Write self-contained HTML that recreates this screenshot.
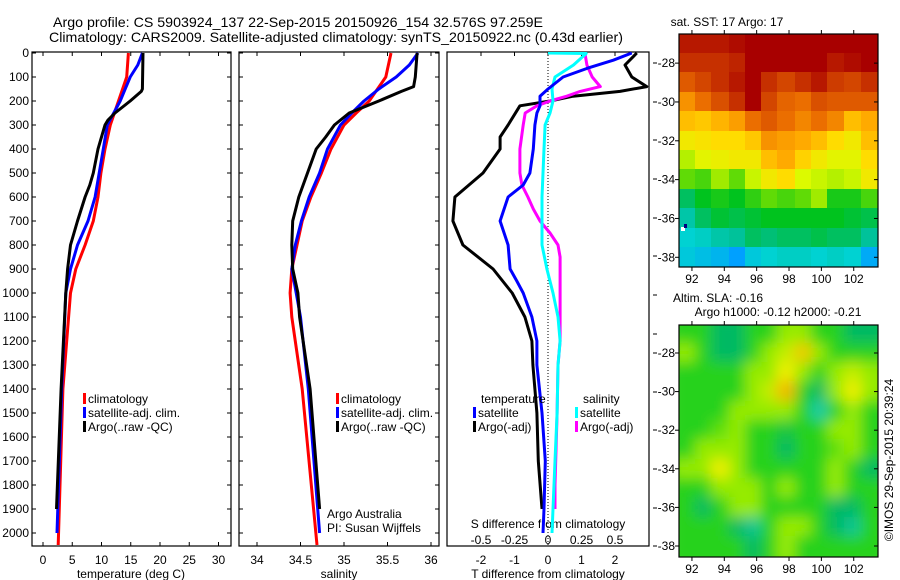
<!DOCTYPE html>
<html><head><meta charset="utf-8">
<style>
html,body{margin:0;padding:0;background:#fff;}
svg{display:block;font-family:"Liberation Sans",sans-serif;}
text{fill:#000;}
</style></head>
<body>
<svg id="chart" width="900" height="580" viewBox="0 0 900 580" xmlns="http://www.w3.org/2000/svg">
<defs>
<clipPath id="c1"><rect x="32" y="52" width="199" height="494"/></clipPath>
<clipPath id="c2"><rect x="239" y="52" width="200" height="494"/></clipPath>
<clipPath id="c3"><rect x="447" y="52" width="202" height="494"/></clipPath>
<clipPath id="cm1"><rect x="679" y="34" width="199" height="233"/></clipPath>
<clipPath id="cm2"><rect x="679" y="325" width="199" height="232"/></clipPath>
<filter id="blur2" x="-5%" y="-5%" width="110%" height="110%"><feGaussianBlur stdDeviation="7"/></filter>
</defs>
<text x="53" y="27" font-size="14" textLength="490" lengthAdjust="spacingAndGlyphs">Argo profile: CS 5903924_137 22-Sep-2015 20150926_154 32.576S 97.259E</text>
<text x="49" y="42" font-size="14" textLength="574" lengthAdjust="spacingAndGlyphs">Climatology: CARS2009. Satellite-adjusted climatology: synTS_20150922.nc (0.43d earlier)</text>
<g id="g"></g>
</svg>
<script>
// ---------- data ----------
const tClimDepth = [0,100,200,300,400,500,600,700,800,900,1000,1400,2050];
const tClimVal   = [14.6,14.3,12.9,11.5,10.6,9.9,9.4,8.6,7.2,5.6,4.7,3.4,2.6];
const tSatDepth  = [0,50,100,200,300,400,500,600,700,800,900,1000,1400,2000];
const tSatVal    = [17.0,16.2,14.9,13.2,11.0,10.3,9.6,8.9,7.7,5.9,4.7,3.9,3.2,2.4];
const tArgoDepth = [0,150,160,200,250,280,300,400,500,550,600,700,800,900,1000,1400,1900];
const tArgoVal   = [17.1,17.0,16.8,14.9,12.3,11.1,10.6,9.4,8.6,8.0,7.2,5.9,4.7,4.2,3.9,3.1,2.3];

const sClimDepth = [0,100,200,250,300,400,500,600,700,800,900,1000,1100,1400,2050];
const sClimVal   = [35.54,35.48,35.29,35.14,35.0,34.85,34.74,34.62,34.52,34.46,34.40,34.38,34.40,34.52,34.69];
const sSatDepth  = [0,50,100,150,200,250,300,400,500,600,700,800,900,1000,1100,1400,2000];
const sSatVal    = [35.85,35.75,35.6,35.40,35.23,35.09,34.96,34.81,34.72,34.60,34.51,34.44,34.40,34.45,34.5,34.59,34.72];
const sArgoDepth = [0,100,140,160,200,250,300,350,400,500,600,700,800,900,1000,1100,1400,1900];
const sArgoVal   = [35.84,35.82,35.80,35.66,35.40,35.06,34.89,34.79,34.68,34.58,34.48,34.41,34.40,34.41,34.47,34.49,34.61,34.72];

const dTArgoDepth = [0,50,100,140,160,180,200,220,300,350,400,500,600,700,800,900,1000,1100,1200,1300,1500,1700,1900];
const dTArgoVal   = [2.65,2.3,2.5,2.95,2.15,0.75,0.06,-0.84,-1.19,-1.43,-1.43,-1.94,-2.78,-2.84,-2.54,-1.64,-1.07,-0.69,-0.48,-0.45,-0.33,-0.29,-0.18];
const dTSatDepth  = [0,30,60,100,150,180,220,250,300,400,500,550,600,700,800,900,950,1000,1100,1200,1300,1500,1700,1900,2000];
const dTSatVal    = [2.5,1.95,1.25,0.45,0.0,-0.24,-0.24,-0.33,-0.39,-0.44,-0.54,-0.74,-1.19,-1.43,-1.19,-1.13,-0.93,-0.74,-0.48,-0.33,-0.33,-0.18,-0.08,-0.12,-0.15];
const dSSatDepth  = [0,2,50,100,150,200,250,300,400,600,800,900,1000,1100,1200,1300,1500,1700,1900,2000];
const dSSatVal    = [0,0.285,0.19,0.052,0.03,0.037,0.015,-0.022,-0.03,-0.045,-0.045,-0.008,0.037,0.075,0.09,0.075,0.068,0.052,0.037,0.03];
const dSArgoDepth = [0,50,100,140,160,180,200,220,250,300,400,500,550,600,650,700,750,800,850,900,1200,1300,1500,1800,1900];
const dSArgoVal   = [0.275,0.29,0.33,0.39,0.24,0.14,0.015,-0.083,-0.17,-0.185,-0.21,-0.21,-0.195,-0.15,-0.11,-0.06,0.015,0.075,0.09,0.09,0.09,0.075,0.068,0.052,0.052];

const depthTicks = [0,100,200,300,400,500,600,700,800,900,1000,1100,1200,1300,1400,1500,1600,1700,1800,1900,2000];
const tempTicks = [0,5,10,15,20,25,30];
const salTicks = [34,34.5,35,35.5,36];
const salTickLabels = ["34","34.5","35","35.5","36"];
const dTTicks = [-2,-1,0,1,2];
const dSTicks = [-0.5,-0.25,0,0.25,0.5];
const dSTickLabels = ["-0.5","-0.25","0","0.25","0.5"];

const mapLons = [91.7,92.7,93.7,94.8,95.8,96.8,97.8,98.9,99.9,100.9,101.9,103.0];
const mapLats = [-27,-28,-29,-30,-31,-32,-33,-34,-35,-36,-37,-38];
const lonTicks = [92,94,96,98,100,102];
const latTicks = [-28,-30,-32,-34,-36,-38];
const sstGrid = [
[5.8,5.8,5.8,5.9,6,6,6,6,6,6,6,6],
[5.6,5.6,5.6,5.7,6,6,6,6,6,5.8,5.9,6],
[5.2,5.4,5.6,5.8,6,5.6,5.4,5.6,5.8,5.5,5.4,5.6],
[4.7,5.0,5.3,5.6,6,5.4,5.1,5.0,5.3,5.2,5.2,5.2],
[4.3,4.2,4.4,4.6,5.0,5.2,5.0,4.8,5.0,4.8,4.3,4.5],
[3.8,3.9,4.0,4.0,4.2,4.7,4.6,4.5,4.3,4.0,3.8,4.3],
[3.3,3.6,3.7,3.8,3.8,4.3,4.5,4.1,3.8,3.6,3.6,4.0],
[2.9,2.8,3.2,2.9,3.4,3.8,4.0,3.5,3.4,3.3,3.4,3.8],
[2.2,2.5,2.6,2.5,2.7,2.9,2.8,2.9,3.2,2.6,2.6,2.8],
[1.8,2.2,2.4,2.3,2.4,2.5,2.5,2.5,2.5,2.5,2.4,2.3],
[1.5,1.6,1.8,1.9,2.2,2.1,2.2,2.2,2.3,2.2,2.2,1.9],
[1.4,1.3,1.2,1.0,1.4,1.5,1.6,1.6,1.5,1.6,1.5,1.1]];
const slaGrid = [
[2,2,1,1,2,2,3,3,2,2,1,1],
[3,2,1,1,2,3,3.5,4.5,3,2,2,2],
[2,2,2,2,3,3,4,3,2,3,3.5,3],
[2,2,2,2,3,3.5,4.7,2,1,3,4,3],
[2,2,2,3,3,3,3,2,0.3,2,3,2],
[2,2,2.5,3,2,2,1.5,2,2,3,3,2],
[2,3,3,3,2,2,1,2,2,2.5,3,2],
[3,3,4,3,2,2,2,2,2,3,2,1],
[2,2,3,3,3,2,3,2,2,3,2,2],
[2,1,2,3,3,2,2,2,2,1,1,2],
[2,2,2,1,0.5,2,3,3,2,1,0.5,2],
[2,2,2,2,1,2,3,2,2,2,2,2]];

// ---------- helpers ----------
const NS="http://www.w3.org/2000/svg";
const G=document.getElementById('g');
function mk(tag,attrs,parent){const e=document.createElementNS(NS,tag);for(const k in attrs)e.setAttribute(k,attrs[k]);(parent||G).appendChild(e);return e;}
const yD = d => 53 + 0.24*d;
const xT = t => 43 + 5.85*t;
const xS = s => 257 + 87*(s-34);
const xDT = t => 548 + 33.5*t;
const xDS = s => 548 + 134*s;

function line(ds,vs,xf,color,clip,name,w){
  const pts=ds.map((d,i)=>xf(vs[i]).toFixed(1)+','+yD(d).toFixed(1)).join(' ');
  const p=mk('polyline',{points:pts,fill:'none',stroke:color,'stroke-width':w||3,'stroke-linejoin':'round','clip-path':'url(#'+clip+')'});
  
  
}
function box(x,y,w,h,name){
  const r=mk('rect',{x:x,y:y,width:w,height:h,fill:'none',stroke:'#000','stroke-width':1.2});
  
  
}
function txt(x,y,s,size,anchor,name){
  const t=mk('text',{x:x,y:y,'font-size':size||12,'text-anchor':anchor||'start'});t.textContent=s;
  
  
  return t;
}
function tick(x1,y1,x2,y2){mk('line',{x1:x1,y1:y1,x2:x2,y2:y2,stroke:'#000','stroke-width':1});}

// ---------- panel 1 ----------
box(32,52,199,494,'temperature-panel');
depthTicks.forEach(d=>{const y=yD(d);tick(32,y,36,y);tick(227,y,231,y);tick(239,y,243,y);tick(435,y,439,y);
  txt(29,y+4,String(d),12,'end','depth-tick-label');});
tempTicks.forEach(t=>{const x=xT(t);tick(x,52,x,56);tick(x,546,x,542);txt(x,564,String(t),12,'middle','temp-tick-label');});
txt(131,578,'temperature (deg C)',12,'middle','temperature-axis-title');
line(tClimDepth,tClimVal,xT,'#ff0000','c1','temp-climatology-line');
line(tSatDepth,tSatVal,xT,'#0000ff','c1','temp-satellite-line');
line(tArgoDepth,tArgoVal,xT,'#000000','c1','temp-argo-line');

// ---------- panel 2 ----------
box(239,52,200,494,'salinity-panel');
salTicks.forEach((s,i)=>{const x=xS(s);tick(x,52,x,56);tick(x,546,x,542);txt(x,564,salTickLabels[i],12,'middle','sal-tick-label');});
txt(339,578,'salinity',12,'middle','salinity-axis-title');
line(sClimDepth,sClimVal,xS,'#ff0000','c2','sal-climatology-line');
line(sSatDepth,sSatVal,xS,'#0000ff','c2','sal-satellite-line');
line(sArgoDepth,sArgoVal,xS,'#000000','c2','sal-argo-line');

// legends
function leg(x,y,color,label,name){
  const r=mk('rect',{x:x,y:y-10,width:3,height:11,fill:color});
  
  
  txt(x+5,y,label,12,'start',name);
}
leg(83,403,'#ff0000','climatology','legend-temp-climatology');
leg(83,417,'#0000ff','satellite-adj. clim.','legend-temp-satellite');
leg(83,431,'#000000','Argo(..raw -QC)','legend-temp-argo');
leg(336,403,'#ff0000','climatology','legend-sal-climatology');
leg(336,417,'#0000ff','satellite-adj. clim.','legend-sal-satellite');
leg(336,431,'#000000','Argo(..raw -QC)','legend-sal-argo');
txt(327,518,'Argo Australia',12,'start','argo-australia-label');
txt(327,532,'PI: Susan Wijffels',12,'start','pi-label');

// ---------- panel 3 ----------
box(447,52,202,494,'difference-panel');
mk('line',{x1:548,y1:52,x2:548,y2:546,stroke:'#000','stroke-width':1,'stroke-dasharray':'1,2'});
dTTicks.forEach(t=>{const x=xDT(t);tick(x,52,x,56);txt(x,564,String(t),12,'middle','dT-tick-label');});
[63,102,140,179,218,256,295,334,353,392,430,469,508,546].forEach(y=>tick(653,y,657,y));
dSTicks.forEach((s,i)=>txt(xDS(s),544,dSTickLabels[i],12,'middle','dS-tick-label'));
txt(548,528,'S difference from climatology',12,'middle','dS-axis-title');
txt(548,578,'T difference from climatology',12,'middle','dT-axis-title');
line(dTArgoDepth,dTArgoVal,xDT,'#000000','c3','dT-argo-line');
line(dSArgoDepth,dSArgoVal,xDS,'#ff00ff','c3','dS-argo-line');
line(dSSatDepth,dSSatVal,xDS,'#00ffff','c3','dS-satellite-line');
line(dTSatDepth,dTSatVal,xDT,'#0000ff','c3','dT-satellite-line');
txt(481,403,'temperature',12,'start','legend-temperature-heading');
txt(583,403,'salinity',12,'start','legend-salinity-heading');
leg(473,417,'#0000ff','satellite','legend-dT-satellite');
leg(473,431,'#000000','Argo(-adj)','legend-dT-argo');
leg(575,417,'#00ffff','satellite','legend-dS-satellite');
leg(575,431,'#ff00ff','Argo(-adj)','legend-dS-argo');

// ---------- maps ----------
function lerpColor(stops,v){
  if(v<=stops[0][0])return stops[0][1];
  for(let i=1;i<stops.length;i++){if(v<=stops[i][0]){const a=stops[i-1],b=stops[i];const f=(v-a[0])/(b[0]-a[0]);
    return a[1].map((x,k)=>Math.round(x+(b[1][k]-x)*f));}}
  return stops[stops.length-1][1];
}
const sstStops=[[0,[0,80,255]],[1,[0,160,255]],[1.5,[0,210,210]],[2,[0,190,140]],[2.5,[0,195,30]],[3,[120,225,0]],[3.5,[220,250,0]],[4,[255,220,0]],[4.5,[255,170,0]],[5,[235,110,0]],[5.5,[205,60,0]],[6,[168,0,0]]];
const slaStops=[[0,[30,210,200]],[1,[0,185,100]],[2,[40,210,30]],[3,[150,235,0]],[4,[240,240,0]],[5,[245,160,0]]];
function drawMap(grid,stops,mx,my,mw,mh,lon0,lon1,lat0,lat1,clip,filt,bg,name){
  const lx=lon=>mx+(lon-lon0)/(lon1-lon0)*mw;
  const ly=lat=>my+(lat0-lat)/(lat0-lat1)*mh;
  const outer=mk('g',{'clip-path':'url(#'+clip+')'});
  
  
  mk('rect',{x:mx,y:my,width:mw,height:mh,fill:bg},outer);
  const ga={'shape-rendering':'crispEdges'}; if(filt) ga.filter='url(#'+filt+')';
  const grp=mk('g',ga,outer);
  const dlon=mapLons[1]-mapLons[0];
  grid.forEach((row,r)=>row.forEach((v,c)=>{
    const c0=lerpColor(stops,v);
    const x=lx(mapLons[c]-dlon/2)-8*(c==0), y=ly(mapLats[r]+0.5)-8*(r==0);
    const x2=lx(mapLons[c]+dlon/2)+8*(c==row.length-1), y2=ly(mapLats[r]-0.5)+8*(r==grid.length-1);
    const cell=mk('rect',{x:Math.floor(x),y:Math.floor(y),width:Math.ceil(x2-x)+1,height:Math.ceil(y2-y)+1,fill:'rgb('+c0.join(',')+')'},grp);
    
    
  }));
  box(mx,my,mw,mh,name+'-frame');
  latTicks.forEach(l=>{const y=ly(l);tick(mx,y,mx-4,y);tick(mx+mw,y,mx+mw-4,y);txt(mx-4,y+4,String(l),12,'end','lat-tick-label');});
  lonTicks.forEach(l=>{const x=lx(l);tick(x,my,x,my-4);tick(x,my+mh,x,my+mh+4);txt(x,my+mh+16,String(l),12,'middle','lon-tick-label');});
}
drawMap(sstGrid,sstStops,679,34,199,233,91.2,103.5,-26.5,-38.5,'cm1',null,'#e07000','sst-map');
mk('rect',{x:681,y:227,width:4,height:4,fill:'#fff'});
mk('rect',{x:684,y:224,width:3,height:4,fill:'#000080'});
drawMap(slaGrid,slaStops,679,325,199,232,91.2,103.5,-26.55,-38.57,'cm2','blur2','#40d020','sla-map');
txt(727,26,'sat. SST: 17 Argo: 17',12,'middle','sst-map-title');
txt(718,302,'Altim. SLA: -0.16',12,'middle','sla-map-title');
txt(778,316,'Argo h1000: -0.12 h2000: -0.21',12,'middle','sla-map-subtitle');
const cr=txt(0,0,'©IMOS 29-Sep-2015 20:39:24',12,'middle','copyright-label');
cr.setAttribute('transform','translate(893,460) rotate(-90)');
</script>
</body></html>
